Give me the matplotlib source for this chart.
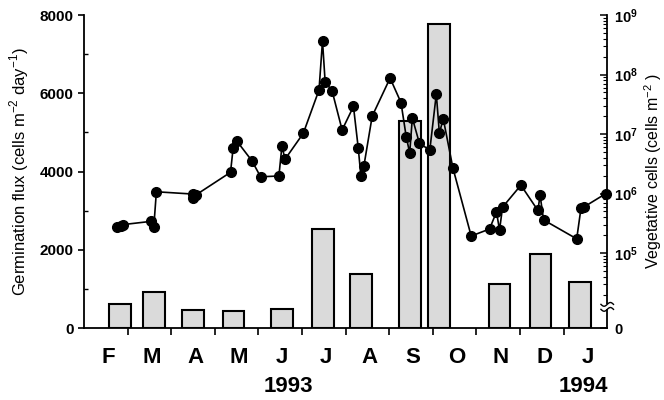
import numpy as np
import matplotlib
matplotlib.use('Agg')
import matplotlib.pyplot as plt
from matplotlib.ticker import FixedLocator, FixedFormatter, NullFormatter

plt.rcParams['font.family'] = ['Liberation Sans', 'DejaVu Sans']
plt.rcParams['mathtext.fontset'] = 'custom'
plt.rcParams['mathtext.rm'] = 'Liberation Sans'
plt.rcParams['mathtext.bf'] = 'Liberation Sans:bold'

# months since 1 Feb 1993
months = ['F', 'M', 'A', 'M', 'J', 'J', 'A', 'S', 'O', 'N', 'D', 'J']

# germination flux bars (cells m-2 day-1)
bar_x = [0.82, 1.60, 2.50, 3.43, 4.54, 5.48, 6.36, 7.47, 8.15, 9.53, 10.47, 11.37]
bar_flux = [610, 920, 460, 435, 490, 2530, 1380, 5290, 7770, 1125, 1890, 1175]

# vegetative cells (cells m-2)
veg_x = [0.76, 0.84, 0.89, 1.53, 1.60, 1.66, 2.49, 2.50, 2.56, 3.36,
         3.42, 3.50, 3.85, 4.05, 4.47, 4.54, 4.61, 5.03, 5.39, 5.47,
         5.53, 5.69, 5.92, 6.18, 6.29, 6.35, 6.42, 6.61, 7.02, 7.27,
         7.39, 7.47, 7.53, 7.69, 7.93, 8.08, 8.15, 8.24, 8.46, 8.88,
         9.30, 9.46, 9.53, 9.60, 10.02, 10.41, 10.46, 10.54, 11.30, 11.40,
         11.46, 11.97]
veg_cells = [2.77e5, 2.9e5, 3.0e5, 3.4e5, 2.7e5, 1.07e6, 9.8e5, 8.3e5, 9.4e5, 2.27e6,
             5.75e6, 7.7e6, 3.56e6, 1.91e6, 1.97e6, 6.3e6, 3.76e6, 1.03e7, 5.5e7, 3.66e8,
             7.6e7, 5.3e7, 1.17e7, 2.9e7, 5.8e6, 1.99e6, 2.93e6, 2.0e7, 8.7e7, 3.38e7,
             9.0e6, 4.8e6, 1.86e7, 7.1e6, 5.3e6, 4.7e7, 1.04e7, 1.79e7, 2.7e6, 1.93e5,
             2.53e5, 4.9e5, 2.44e5, 5.9e5, 1.38e6, 5.2e5, 9.4e5, 3.6e5, 1.73e5, 5.8e5,
             5.9e5, 1.0e6]

fig = plt.figure(figsize=(6.64, 4.0), dpi=100)
ax = fig.add_axes([0.1265, 0.18, 0.788, 0.7825])

ax.bar(bar_x, bar_flux, width=0.5, color='#dadada', edgecolor='black', linewidth=1.5, zorder=2)

ax.set_xlim(0, 12)
ax.set_ylim(0, 8000)
ax.spines['top'].set_visible(False)
ax.spines['right'].set_visible(False)
for s in ['left', 'bottom']:
    ax.spines[s].set_linewidth(1.3)

ax.set_yticks([0, 2000, 4000, 6000, 8000])
ax.set_yticks([1000, 3000, 5000, 7000], minor=True)
ax.tick_params(axis='y', which='major', direction='out', length=4, width=1.2, labelsize=11)
ax.tick_params(axis='y', which='minor', direction='in', length=3, width=1)
for lb in ax.get_yticklabels():
    lb.set_fontweight('bold')

ax.set_xticks(np.arange(1, 12))
ax.set_xticklabels([])
ax.set_xticks(np.arange(12) + 0.55, minor=True)
ax.set_xticklabels(months, minor=True, fontsize=16, fontweight='bold')
ax.tick_params(axis='x', which='major', direction='out', length=5, width=1.2)
ax.tick_params(axis='x', which='minor', length=0, pad=14)

ax.set_ylabel('Germination flux (cells m$^{-2}$ day$^{-1}$)', fontsize=12, labelpad=6)

fig.text(0.435, 0.035, '1993', fontsize=16, fontweight='bold', ha='center', va='center')
fig.text(0.878, 0.035, '1994', fontsize=16, fontweight='bold', ha='center', va='center')

# vegetative cells on log axis
ax2 = ax.twinx()
ax2.set_yscale('log')
ax2.set_ylim(10 ** 3.74, 1e9)
ax2.plot(veg_x, veg_cells, color='black', linewidth=1.2, marker='o', markersize=7,
         clip_on=False, zorder=3)
for s in ['top', 'left', 'bottom']:
    ax2.spines[s].set_visible(False)
ax2.spines['right'].set_linewidth(1.3)

major = [1e5, 1e6, 1e7, 1e8, 1e9]
ax2.yaxis.set_major_locator(FixedLocator(major + [10 ** 3.74]))
ax2.yaxis.set_major_formatter(FixedFormatter([r'$\mathbf{10^{5}}$', r'$\mathbf{10^{6}}$',
                                              r'$\mathbf{10^{7}}$', r'$\mathbf{10^{8}}$',
                                              r'$\mathbf{10^{9}}$', r'$\mathbf{0}$']))
minor = [m * 10 ** d for d in range(4, 9) for m in range(2, 10)]
ax2.yaxis.set_minor_locator(FixedLocator(minor))
ax2.yaxis.set_minor_formatter(NullFormatter())
ax2.tick_params(axis='y', which='major', direction='in', length=5, width=1.1, labelsize=10.5, pad=5)
ax2.tick_params(axis='y', which='minor', direction='in', length=3, width=0.8)
ax2.set_ylabel('Vegetative cells (cells m$^{-2}$ )', fontsize=11.5, labelpad=3)

# axis break on the right spine
yb = 0.0675
ax2.add_patch(plt.Rectangle((0.99, yb - 0.008), 0.02, 0.016, transform=ax2.transAxes,
                            facecolor='white', edgecolor='none', clip_on=False, zorder=5))
t = np.linspace(-1, 1, 20)
for dy in (-0.008, 0.008):
    ax2.plot(1 + 0.012 * t, yb + dy + 0.006 * np.sin(np.pi * t), transform=ax2.transAxes,
             color='black', linewidth=1, clip_on=False, zorder=6)

fig.savefig('out.png', dpi=100)
